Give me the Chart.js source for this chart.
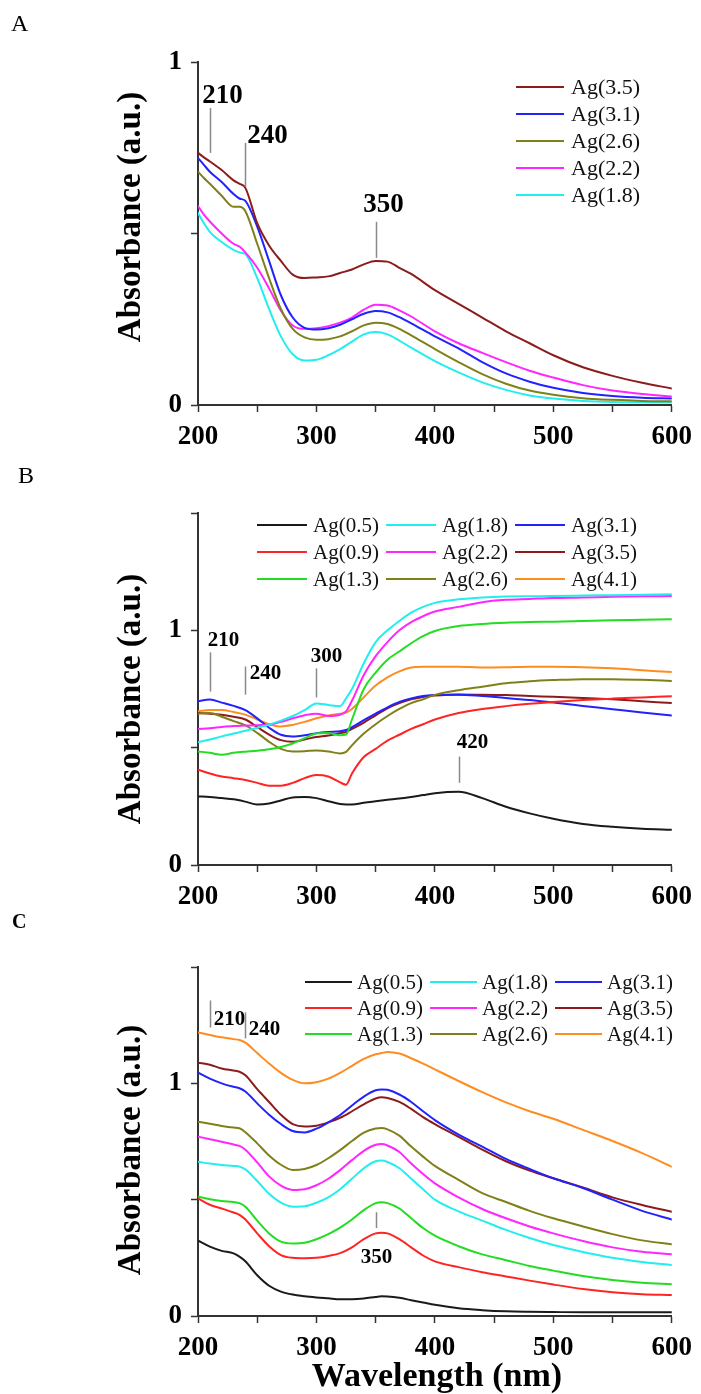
<!DOCTYPE html>
<html>
<head>
<meta charset="utf-8">
<script src="https://cdn.jsdelivr.net/npm/chart.js@4.4.1/dist/chart.umd.min.js"></script>
<style>
  html, body { margin: 0; padding: 0; background: #fff; }
  body { position: relative; width: 701px; height: 1394px; overflow: hidden; }
  canvas { position: absolute; left: 0; }
</style>
</head>
<body>
<canvas id="chartA" width="701" height="460" style="top:0px"></canvas>
<canvas id="chartB" width="701" height="460" style="top:460px"></canvas>
<canvas id="chartC" width="701" height="494" style="top:900px"></canvas>
<script>
// ---------- tick labels ----------
const xLabelValues = [200, 300, 400, 500, 600];
const yLabelValues = [0, 1];

// ---------- panel A: UV-vis absorbance vs wavelength (nm) ----------
const wlA = [200,205,210,220,230,235,240,250,260,270,280,290,300,310,320,330,340,350,360,370,380,400,420,440,460,480,500,525,550,575,600];
const A_Ag35 = [.735,.722,.71,.685,.655,.645,.633,.53,.465,.42,.38,.37,.372,.375,.385,.395,.41,.42,.418,.40,.382,.335,.295,.255,.215,.18,.145,.11,.085,.065,.048];
const A_Ag31 = [.72,.70,.68,.65,.615,.602,.595,.52,.42,.32,.255,.225,.22,.224,.234,.25,.266,.274,.27,.256,.238,.20,.165,.125,.092,.068,.05,.035,.026,.021,.019];
const A_Ag26 = [.68,.662,.645,.61,.578,.578,.565,.47,.37,.28,.222,.197,.19,.192,.20,.215,.232,.24,.236,.222,.203,.163,.125,.09,.062,.042,.03,.02,.015,.012,.011];
const A_Ag22 = [.58,.555,.535,.50,.47,.462,.445,.40,.34,.275,.232,.222,.224,.23,.24,.255,.278,.292,.29,.276,.258,.215,.18,.152,.125,.10,.08,.058,.042,.032,.025];
const A_Ag18 = [.56,.53,.505,.475,.452,.445,.44,.37,.28,.20,.148,.13,.132,.145,.163,.185,.206,.213,.206,.188,.167,.128,.095,.066,.044,.028,.019,.012,.009,.008,.007];

// ---------- panel B ----------
const wlB = [200,210,220,230,240,250,260,270,280,290,300,310,320,325,330,340,350,360,370,380,390,400,420,440,460,480,500,525,550,575,600];
const B_Ag05 = [.292,.29,.285,.28,.27,.258,.262,.275,.288,.29,.285,.272,.26,.258,.258,.265,.272,.278,.283,.29,.298,.306,.312,.285,.248,.22,.197,.175,.163,.155,.15];
const B_Ag09 = [.406,.39,.377,.37,.362,.35,.338,.338,.35,.37,.383,.377,.352,.342,.39,.46,.495,.53,.555,.58,.60,.62,.648,.665,.677,.687,.695,.703,.709,.714,.719];
const B_Ag13 = [.484,.478,.47,.478,.483,.487,.493,.503,.518,.54,.56,.562,.553,.556,.62,.75,.82,.875,.91,.945,.975,.997,1.018,1.027,1.032,1.035,1.037,1.04,1.043,1.045,1.047];
const B_Ag18 = [.523,.535,.548,.56,.572,.585,.598,.615,.635,.66,.688,.682,.677,.71,.75,.86,.95,1.0,1.04,1.075,1.10,1.117,1.132,1.14,1.144,1.145,1.146,1.148,1.15,1.152,1.154];
const B_Ag22 = [.58,.583,.588,.592,.594,.596,.598,.61,.625,.638,.645,.635,.64,.655,.70,.81,.89,.95,1.0,1.035,1.06,1.08,1.10,1.12,1.13,1.134,1.138,1.14,1.143,1.145,1.146];
const B_Ag26 = [.645,.648,.632,.613,.595,.563,.525,.495,.484,.485,.488,.484,.475,.482,.51,.56,.60,.635,.665,.69,.706,.725,.745,.76,.775,.783,.788,.792,.792,.789,.784];
const B_Ag31 = [.698,.705,.692,.678,.66,.625,.585,.555,.548,.553,.562,.567,.57,.575,.587,.617,.645,.672,.695,.71,.72,.724,.726,.72,.712,.703,.692,.678,.664,.65,.637];
const B_Ag35 = [.648,.645,.64,.632,.62,.588,.556,.532,.525,.535,.545,.552,.562,.567,.58,.607,.638,.668,.69,.706,.716,.722,.727,.726,.724,.72,.717,.712,.706,.698,.69];
const B_Ag41 = [.655,.66,.66,.652,.641,.62,.60,.59,.597,.61,.625,.637,.645,.65,.665,.715,.765,.80,.825,.842,.845,.845,.845,.842,.843,.845,.845,.843,.838,.83,.822];

// ---------- panel C ----------
const wlC = [200,210,220,230,235,240,250,260,270,280,290,300,310,320,330,340,350,355,360,370,380,390,400,420,440,460,480,500,525,550,575,600];
const C_Ag05 = [.324,.298,.28,.269,.255,.235,.175,.13,.105,.092,.085,.08,.076,.072,.072,.075,.082,.085,.084,.078,.068,.058,.048,.033,.025,.02,.018,.017,.016,.016,.016,.016];
const C_Ag09 = [.506,.478,.462,.445,.435,.415,.355,.30,.262,.25,.248,.25,.258,.27,.295,.33,.355,.358,.355,.33,.295,.26,.235,.21,.188,.17,.152,.135,.116,.102,.094,.09];
const C_Ag13 = [.513,.502,.494,.49,.485,.47,.41,.355,.32,.312,.315,.33,.352,.38,.415,.455,.485,.489,.485,.462,.42,.378,.345,.30,.265,.24,.215,.195,.172,.155,.143,.136];
const C_Ag18 = [.663,.655,.649,.645,.642,.63,.58,.525,.487,.47,.472,.487,.51,.545,.59,.635,.665,.668,.662,.635,.59,.545,.50,.45,.41,.37,.335,.305,.275,.25,.232,.219];
const C_Ag22 = [.771,.76,.749,.737,.731,.715,.66,.60,.56,.542,.545,.562,.59,.627,.67,.71,.736,.739,.733,.705,.655,.61,.57,.51,.46,.42,.385,.355,.322,.295,.276,.265];
const C_Ag26 = [.835,.826,.817,.81,.807,.79,.742,.69,.65,.628,.632,.649,.678,.713,.752,.788,.806,.808,.802,.775,.728,.685,.645,.585,.528,.49,.452,.42,.385,.352,.325,.308];
const C_Ag31 = [1.046,1.02,1.0,.985,.979,.965,.914,.865,.825,.795,.789,.805,.832,.864,.905,.943,.97,.974,.972,.952,.92,.88,.842,.78,.728,.675,.632,.592,.55,.50,.452,.415];
const C_Ag35 = [1.089,1.08,1.064,1.055,1.05,1.035,.975,.92,.865,.825,.815,.818,.832,.852,.88,.91,.935,.94,.937,.92,.89,.855,.825,.77,.715,.665,.625,.592,.552,.51,.477,.448];
const C_Ag41 = [1.219,1.208,1.198,1.19,1.186,1.175,1.13,1.085,1.045,1.015,1.0,1.005,1.02,1.045,1.075,1.105,1.125,1.13,1.135,1.128,1.108,1.085,1.06,1.01,.962,.918,.88,.848,.80,.752,.70,.642];

// ---------- series styling ----------
const seriesColors = {
  'Ag(0.5)': '#1a1a1a',
  'Ag(0.9)': '#ff2424',
  'Ag(1.3)': '#22dd22',
  'Ag(1.8)': '#22eeee',
  'Ag(2.2)': '#ff26ff',
  'Ag(2.6)': '#80801a',
  'Ag(3.1)': '#2222ff',
  'Ag(3.5)': '#8c1c1c',
  'Ag(4.1)': '#ff8c1e'
};

const serif = "'Liberation Serif', 'Times New Roman', serif";

function makeDatasets(wl, series) {
  return series.map(([label, vals]) => ({
    label,
    data: wl.map((x, i) => ({ x, y: vals[i] })),
    borderColor: seriesColors[label],
    backgroundColor: seriesColors[label],
    borderWidth: 2,
    pointRadius: 0,
    fill: false,
    cubicInterpolationMode: 'monotone'
  }));
}

function makeScales(yMax, xAxisHeight) {
  const tickFont = { family: serif, size: 27, weight: 'bold' };
  const grid = { drawOnChartArea: false, drawTicks: true, tickLength: 7, tickColor: '#333', tickWidth: 1.5 };
  const border = { display: true, color: '#333', width: 2 };
  return {
    x: {
      type: 'linear', min: 200, max: 600,
      ticks: { stepSize: 50, autoSkip: false, maxRotation: 0, padding: 9, color: '#000', font: tickFont,
               callback: v => xLabelValues.includes(v) ? String(v) : '' },
      grid, border,
      afterFit: s => { s.height = xAxisHeight; }
    },
    y: {
      type: 'linear', min: 0, max: yMax,
      ticks: { stepSize: 0.5, autoSkip: false, padding: 9, color: '#000', font: tickFont,
               callback: v => yLabelValues.includes(v) ? String(v) : '' },
      grid, border,
      afterFit: s => { s.width = 198; }
    }
  };
}

// Panel letter, axis titles, peak markers and the grid legend
function makeDecor(cfg) {
  return {
    id: 'panelDecor',
    afterDraw(chart) {
      const ctx = chart.ctx;
      const xs = chart.scales.x, ys = chart.scales.y;
      ctx.save();
      ctx.fillStyle = '#000';

      // panel letter
      ctx.font = cfg.letter.font;
      ctx.textAlign = 'left';
      ctx.textBaseline = 'alphabetic';
      ctx.fillText(cfg.letter.text, cfg.letter.x, cfg.letter.y);

      // y-axis title
      ctx.save();
      ctx.translate(cfg.yTitle.x, cfg.yTitle.y);
      ctx.rotate(-Math.PI / 2);
      ctx.font = `bold 33px ${serif}`;
      ctx.textAlign = 'center';
      ctx.textBaseline = 'middle';
      ctx.fillText('Absorbance (a.u.)', 0, 0);
      ctx.restore();

      // x-axis title
      if (cfg.xTitle) {
        ctx.font = `bold 34px ${serif}`;
        ctx.textAlign = 'center';
        ctx.textBaseline = 'alphabetic';
        ctx.fillText('Wavelength (nm)', cfg.xTitle.x, cfg.xTitle.y);
      }

      // peak markers
      cfg.notes.forEach(n => {
        const px = Math.round(xs.getPixelForValue(n.at)) + 0.5;
        const y1 = ys.getPixelForValue(n.from);
        const y2 = ys.getPixelForValue(n.to);
        ctx.strokeStyle = '#8a8a8a';
        ctx.lineWidth = 1.5;
        ctx.beginPath();
        ctx.moveTo(px, y1);
        ctx.lineTo(px, y2);
        ctx.stroke();
        ctx.font = `bold ${cfg.noteSize}px ${serif}`;
        ctx.textAlign = 'center';
        ctx.textBaseline = 'middle';
        ctx.fillStyle = '#000';
        ctx.fillText(String(n.at), px + n.dx, y1 + n.dy);
      });

      // legend, filled column by column
      const L = cfg.legend;
      ctx.font = `${L.size}px ${serif}`;
      ctx.textAlign = 'left';
      ctx.textBaseline = 'middle';
      chart.data.datasets.forEach((ds, i) => {
        const col = Math.floor(i / L.rows), row = i % L.rows;
        const x = L.x + col * L.colStep;
        const y = L.y + row * L.rowStep;
        ctx.strokeStyle = ds.borderColor;
        ctx.lineWidth = 2;
        ctx.beginPath();
        ctx.moveTo(x, y);
        ctx.lineTo(x + L.lineLen, y);
        ctx.stroke();
        ctx.fillStyle = '#111';
        ctx.fillText(ds.label, x + L.lineLen + L.gap, y + 1);
      });
      ctx.restore();
    }
  };
}

function makeChart(id, datasets, yMax, padTop, xAxisHeight, decor) {
  return new Chart(document.getElementById(id), {
    type: 'line',
    data: { datasets },
    options: {
      responsive: false,
      animation: false,
      devicePixelRatio: 1,
      layout: { padding: { top: padTop, right: 24, bottom: 0, left: 0 } },
      plugins: { legend: { display: false }, tooltip: { enabled: false }, title: { display: false } },
      scales: makeScales(yMax, xAxisHeight),
      elements: { line: { borderCapStyle: 'round', borderJoinStyle: 'round' } }
    },
    plugins: [makeDecor(decor)]
  });
}

makeChart('chartA', makeDatasets(wlA, [
  ['Ag(3.5)', A_Ag35], ['Ag(3.1)', A_Ag31], ['Ag(2.6)', A_Ag26], ['Ag(2.2)', A_Ag22], ['Ag(1.8)', A_Ag18]
]), 1, 62, 55, {
  letter: { text: 'A', x: 11, y: 31, font: `24px ${serif}` },
  yTitle: { x: 131, y: 217 },
  noteSize: 27,
  notes: [
    { at: 210, from: 0.866, to: 0.735, dx: 12, dy: -12 },
    { at: 240, from: 0.764, to: 0.636, dx: 22, dy: -7 },
    { at: 350, from: 0.534, to: 0.429, dx: 7, dy: -17 }
  ],
  legend: { x: 516, y: 87, rows: 5, colStep: 0, rowStep: 27, lineLen: 48, gap: 7, size: 22 }
});

makeChart('chartB', makeDatasets(wlB, [
  ['Ag(0.5)', B_Ag05], ['Ag(0.9)', B_Ag09], ['Ag(1.3)', B_Ag13],
  ['Ag(1.8)', B_Ag18], ['Ag(2.2)', B_Ag22], ['Ag(2.6)', B_Ag26],
  ['Ag(3.1)', B_Ag31], ['Ag(3.5)', B_Ag35], ['Ag(4.1)', B_Ag41]
]), 1.5, 53, 55, {
  letter: { text: 'B', x: 18, y: 23, font: `24px ${serif}` },
  yTitle: { x: 131, y: 239 },
  noteSize: 21,
  notes: [
    { at: 210, from: 0.906, to: 0.739, dx: 13, dy: -12 },
    { at: 240, from: 0.846, to: 0.726, dx: 20, dy: 7 },
    { at: 300, from: 0.838, to: 0.714, dx: 10, dy: -12 },
    { at: 420, from: 0.462, to: 0.35, dx: 13, dy: -14 }
  ],
  legend: { x: 257, y: 65, rows: 3, colStep: 129, rowStep: 27, lineLen: 50, gap: 6, size: 21 }
});

makeChart('chartC', makeDatasets(wlC, [
  ['Ag(0.5)', C_Ag05], ['Ag(0.9)', C_Ag09], ['Ag(1.3)', C_Ag13],
  ['Ag(1.8)', C_Ag18], ['Ag(2.2)', C_Ag22], ['Ag(2.6)', C_Ag26],
  ['Ag(3.1)', C_Ag31], ['Ag(3.5)', C_Ag35], ['Ag(4.1)', C_Ag41]
]), 1.5, 67, 78, {
  letter: { text: 'C', x: 12, y: 28, font: `bold 20px ${serif}` },
  yTitle: { x: 131, y: 250 },
  xTitle: { x: 437, y: 486 },
  noteSize: 21,
  notes: [
    { at: 210, from: 1.356, to: 1.24, dx: 19, dy: 19.5 },
    { at: 240, from: 1.305, to: 1.193, dx: 19, dy: 17 },
    { at: 350, from: 0.446, to: 0.378, dx: 0, dy: 45 }
  ],
  legend: { x: 305, y: 82, rows: 3, colStep: 125, rowStep: 26, lineLen: 47, gap: 5, size: 21 }
});
</script>
</body>
</html>
